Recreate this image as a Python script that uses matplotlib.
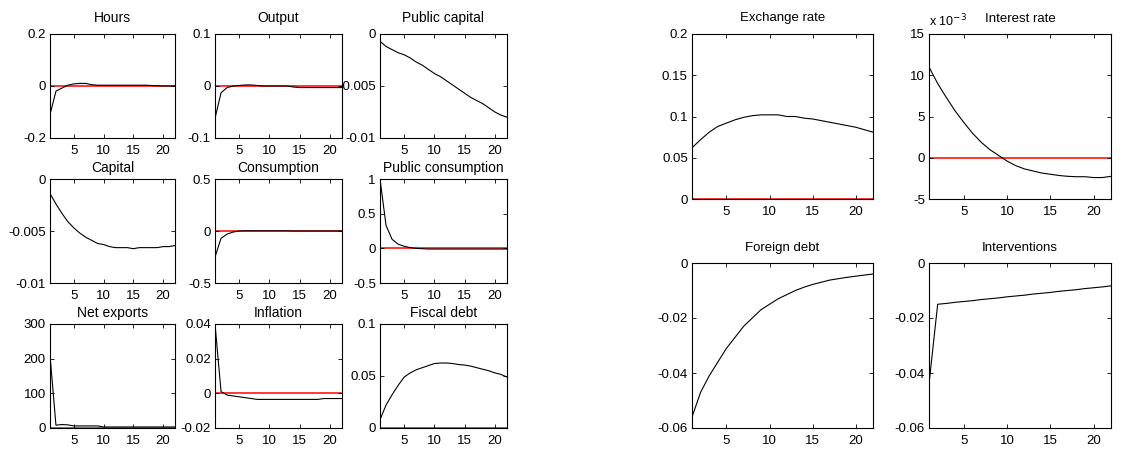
import matplotlib
matplotlib.use("Agg")
import matplotlib.pyplot as plt
import numpy as np

plt.rcParams['font.family'] = ['Liberation Sans', 'DejaVu Sans']
plt.rcParams['font.size'] = 9

# impulse responses, periods 1..22
periods = np.arange(1, 23)

hours = [-0.11, -0.02, -0.008, 0.003, 0.008, 0.01, 0.01, 0.005, 0.003, 0.003, 0.003,
         0.003, 0.003, 0.003, 0.003, 0.003, 0.003, 0.002, 0.001, 0.0, 0.0, 0.0]
output = [-0.062, -0.013, -0.003, 0.0, 0.001, 0.002, 0.002, 0.001, 0.0, 0.0, 0.0,
          0.0, 0.0, -0.002, -0.003, -0.003, -0.003, -0.003, -0.003, -0.003, -0.003, -0.003]
public_capital = [-0.0007, -0.0012, -0.0015, -0.0018, -0.002, -0.0023, -0.0027, -0.003,
                  -0.0034, -0.0038, -0.0041, -0.0045, -0.0049, -0.0053, -0.0057, -0.0061,
                  -0.0064, -0.0067, -0.0071, -0.0075, -0.0078, -0.0080]
capital = [-0.0014, -0.0024, -0.0033, -0.0041, -0.0047, -0.0052, -0.0056, -0.0059, -0.0062,
           -0.0063, -0.0065, -0.0066, -0.0066, -0.0066, -0.0067, -0.0066, -0.0066, -0.0066,
           -0.0066, -0.0065, -0.0065, -0.0064]
consumption = [-0.25, -0.07, -0.03, -0.01, 0.0, 0.002, 0.002, 0.002, 0.002, 0.002, 0.002,
               0.002, 0.002, 0.0, 0.0, 0.0, 0.0, 0.0, 0.0, 0.0, 0.0, 0.0]
public_consumption = [1.0, 0.33, 0.13, 0.06, 0.03, 0.01, 0.0, -0.005, -0.01, -0.01, -0.01,
                      -0.01, -0.01, -0.01, -0.01, -0.01, -0.01, -0.01, -0.01, -0.01, -0.01, -0.01]
net_exports = [210, 8, 10, 9, 6, 6, 6, 6, 6, 3, 3, 3, 3, 3, 3, 3, 3, 3, 3, 3, 3, 3]
inflation = [0.04, 0.001, -0.001, -0.0015, -0.002, -0.0025, -0.003, -0.0035, -0.0035,
             -0.0035, -0.0035, -0.0035, -0.0035, -0.0035, -0.0035, -0.0035, -0.0035,
             -0.0035, -0.003, -0.003, -0.003, -0.003]
fiscal_debt = [0.008, 0.022, 0.032, 0.041, 0.049, 0.053, 0.056, 0.058, 0.060, 0.062, 0.0625,
               0.0625, 0.062, 0.061, 0.0605, 0.0595, 0.058, 0.0565, 0.055, 0.053, 0.0515, 0.049]
exchange_rate = [0.062, 0.072, 0.081, 0.088, 0.092, 0.096, 0.099, 0.101, 0.102, 0.102, 0.102,
                 0.1, 0.1, 0.098, 0.097, 0.095, 0.093, 0.091, 0.089, 0.087, 0.084, 0.081]
interest_rate = [11, 9.0, 7.3, 5.7, 4.3, 3.0, 1.9, 1.0, 0.3, -0.4, -0.95, -1.35, -1.6, -1.85,
                 -2.0, -2.15, -2.25, -2.3, -2.3, -2.4, -2.4, -2.25]  # x 1e-3
foreign_debt = [-0.056, -0.047, -0.041, -0.036, -0.031, -0.027, -0.023, -0.020, -0.017,
                -0.015, -0.013, -0.0115, -0.010, -0.0088, -0.0078, -0.007, -0.0062,
                -0.0057, -0.0052, -0.0048, -0.0044, -0.004]
interventions = [-0.044, -0.015, -0.0147, -0.0143, -0.014, -0.0137, -0.0133, -0.013, -0.0127,
                 -0.0123, -0.012, -0.0117, -0.0113, -0.011, -0.0107, -0.0103, -0.01, -0.0097,
                 -0.0093, -0.009, -0.0087, -0.0083]

panels_left = [
    ("Hours", hours, (-0.2, 0.2), [-0.2, 0, 0.2], ["-0.2", "0", "0.2"]),
    ("Output", output, (-0.1, 0.1), [-0.1, 0, 0.1], ["-0.1", "0", "0.1"]),
    ("Public capital", public_capital, (-0.01, 0), [-0.01, -0.005, 0], ["-0.01", "-0.005", "0"]),
    ("Capital", capital, (-0.01, 0), [-0.01, -0.005, 0], ["-0.01", "-0.005", "0"]),
    ("Consumption", consumption, (-0.5, 0.5), [-0.5, 0, 0.5], ["-0.5", "0", "0.5"]),
    ("Public consumption", public_consumption, (-0.5, 1), [-0.5, 0, 0.5, 1], ["-0.5", "0", "0.5", "1"]),
    ("Net exports", net_exports, (0, 300), [0, 100, 200, 300], ["0", "100", "200", "300"]),
    ("Inflation", inflation, (-0.02, 0.04), [-0.02, 0, 0.02, 0.04], ["-0.02", "0", "0.02", "0.04"]),
    ("Fiscal debt", fiscal_debt, (0, 0.1), [0, 0.05, 0.1], ["0", "0.05", "0.1"]),
]
panels_right = [
    ("Exchange rate", exchange_rate, (0, 0.2), [0, 0.05, 0.1, 0.15, 0.2],
     ["0", "0.05", "0.1", "0.15", "0.2"]),
    ("Interest rate", interest_rate, (-5, 15), [-5, 0, 5, 10, 15], ["-5", "0", "5", "10", "15"]),
    ("Foreign debt", foreign_debt, (-0.06, 0), [-0.06, -0.04, -0.02, 0], ["-0.06", "-0.04", "-0.02", "0"]),
    ("Interventions", interventions, (-0.06, 0), [-0.06, -0.04, -0.02, 0], ["-0.06", "-0.04", "-0.02", "0"]),
]

W, H = 1147, 450
fig = plt.figure(figsize=(W / 100, H / 100), dpi=100)


def make_ax(x0, x1, y0, y1):
    return fig.add_axes([x0 / W, 1 - y1 / H, (x1 - x0) / W, (y1 - y0) / H])


def draw(ax, title, vals, ylim, yt, ylab, tsize, tpad):
    ax.axhline(0, color='#ff0000', lw=1.1, zorder=1)
    ax.plot(periods, vals, color='black', lw=0.8, zorder=2)
    ax.set_xlim(1, 22)
    ax.set_ylim(*ylim)
    ax.set_xticks([5, 10, 15, 20])
    ax.set_yticks(yt)
    ax.set_yticklabels(ylab)
    ax.set_title(title, fontsize=tsize, pad=tpad)
    ax.tick_params(direction='in', top=True, right=True, length=3, width=0.6,
                   labelsize=9.5)
    ax.tick_params(axis='x', pad=5)
    ax.tick_params(axis='y', pad=3)
    for s in ax.spines.values():
        s.set_linewidth(0.8)


cols_l = [(50, 175), (215, 342), (380, 507)]
rows_l = [(34, 138), (179, 283), (324, 428)]
for i, p in enumerate(panels_left):
    r, c = divmod(i, 3)
    ax = make_ax(cols_l[c][0], cols_l[c][1], rows_l[r][0], rows_l[r][1])
    draw(ax, *p, tsize=10, tpad=8.5 if r == 0 else 5)

cols_r = [(692, 873), (929, 1111)]
rows_r = [(34, 199), (263, 428)]
for i, p in enumerate(panels_right):
    r, c = divmod(i, 2)
    ax = make_ax(cols_r[c][0], cols_r[c][1], rows_r[r][0], rows_r[r][1])
    draw(ax, *p, tsize=9.5, tpad=9)
    if p[0] == "Interest rate":
        ax.text(0.0, 1.03, r"x 10$^{-3}$", transform=ax.transAxes, fontsize=9,
                ha='left', va='bottom')

fig.savefig("out.png", dpi=100)
